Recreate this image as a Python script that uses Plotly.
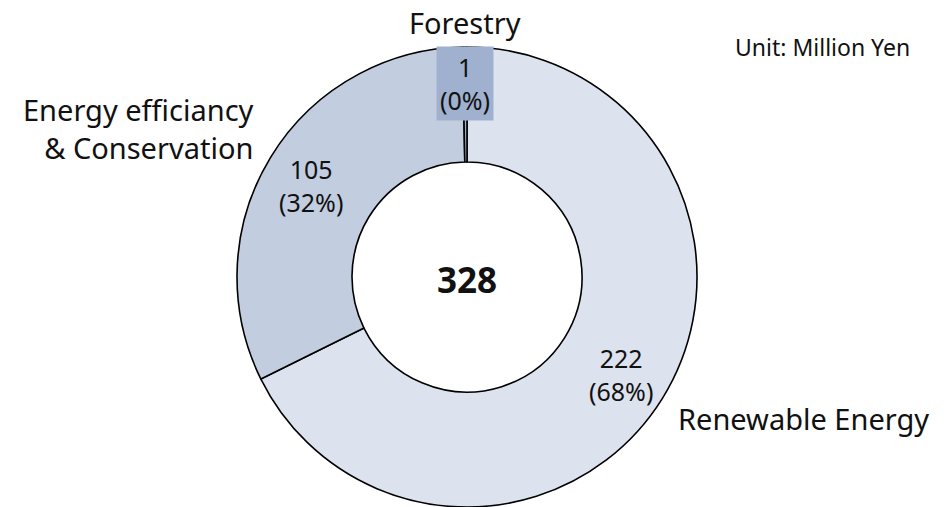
import plotly.graph_objects as go

# donut data (Million Yen)
categories = ["Renewable Energy", "Energy efficiancy<br>& Conservation", "Forestry"]
values = [222, 105, 1]
shares = ["68%", "32%", "0%"]
total = 328
colors = ["#dde3ee", "#c2cde0", "#9fb1cf"]

W, H = 949, 507
FONT = "Noto Sans, Open Sans, DejaVu Sans, sans-serif"

def px(x, y):
    # pixel position -> paper coords
    return x / W, 1 - y / H

fig = go.Figure(go.Pie(
    labels=[c.replace("<br>", " ") for c in categories],
    values=values,
    textinfo="none",
    hole=0.5,
    sort=False,
    direction="clockwise",
    rotation=0,
    marker=dict(colors=colors, line=dict(color="#000000", width=1.6)),
    domain=dict(x=[237 / W, 697 / W], y=[0, 460 / H]),
    showlegend=False,
))

anns = []
# center total
x, y = px(467, 279)
anns.append(dict(x=x, y=y, text=f"<b>{total}</b>", font=dict(size=35)))
# slice values
label_pos = [(621, 374), (311, 185), (465, 84)]
for i, (lx, ly) in enumerate(label_pos):
    x, y = px(lx, ly)
    a = dict(x=x, y=y, text=f"{values[i]}<br>({shares[i]})", font=dict(size=25))
    if i == 2:
        a.update(bgcolor=colors[2], borderpad=3)
    anns.append(a)
# category names
x, y = px(465, 22)
anns.append(dict(x=x, y=y, text="Forestry", font=dict(size=29)))
x, y = px(256, 129)
anns.append(dict(x=x, y=y, text=categories[1], font=dict(size=29), xanchor="right", align="right"))
x, y = px(676, 418)
anns.append(dict(x=x, y=y, text=categories[0], font=dict(size=29), xanchor="left"))
x, y = px(822, 47)
anns.append(dict(x=x, y=y, text="Unit: Million Yen", font=dict(size=23)))

for a in anns:
    a.update(xref="paper", yref="paper", showarrow=False, yanchor="middle")
    a.setdefault("xanchor", "center")
    a["font"].update(family=FONT, color="#111111")

fig.update_layout(
    width=W, height=H,
    margin=dict(l=0, r=0, t=0, b=0),
    paper_bgcolor="white",
    plot_bgcolor="white",
    annotations=anns,
)

fig.write_html("out.html", config={"displayModeBar": False},
               post_script="document.body.style.margin='0';")
